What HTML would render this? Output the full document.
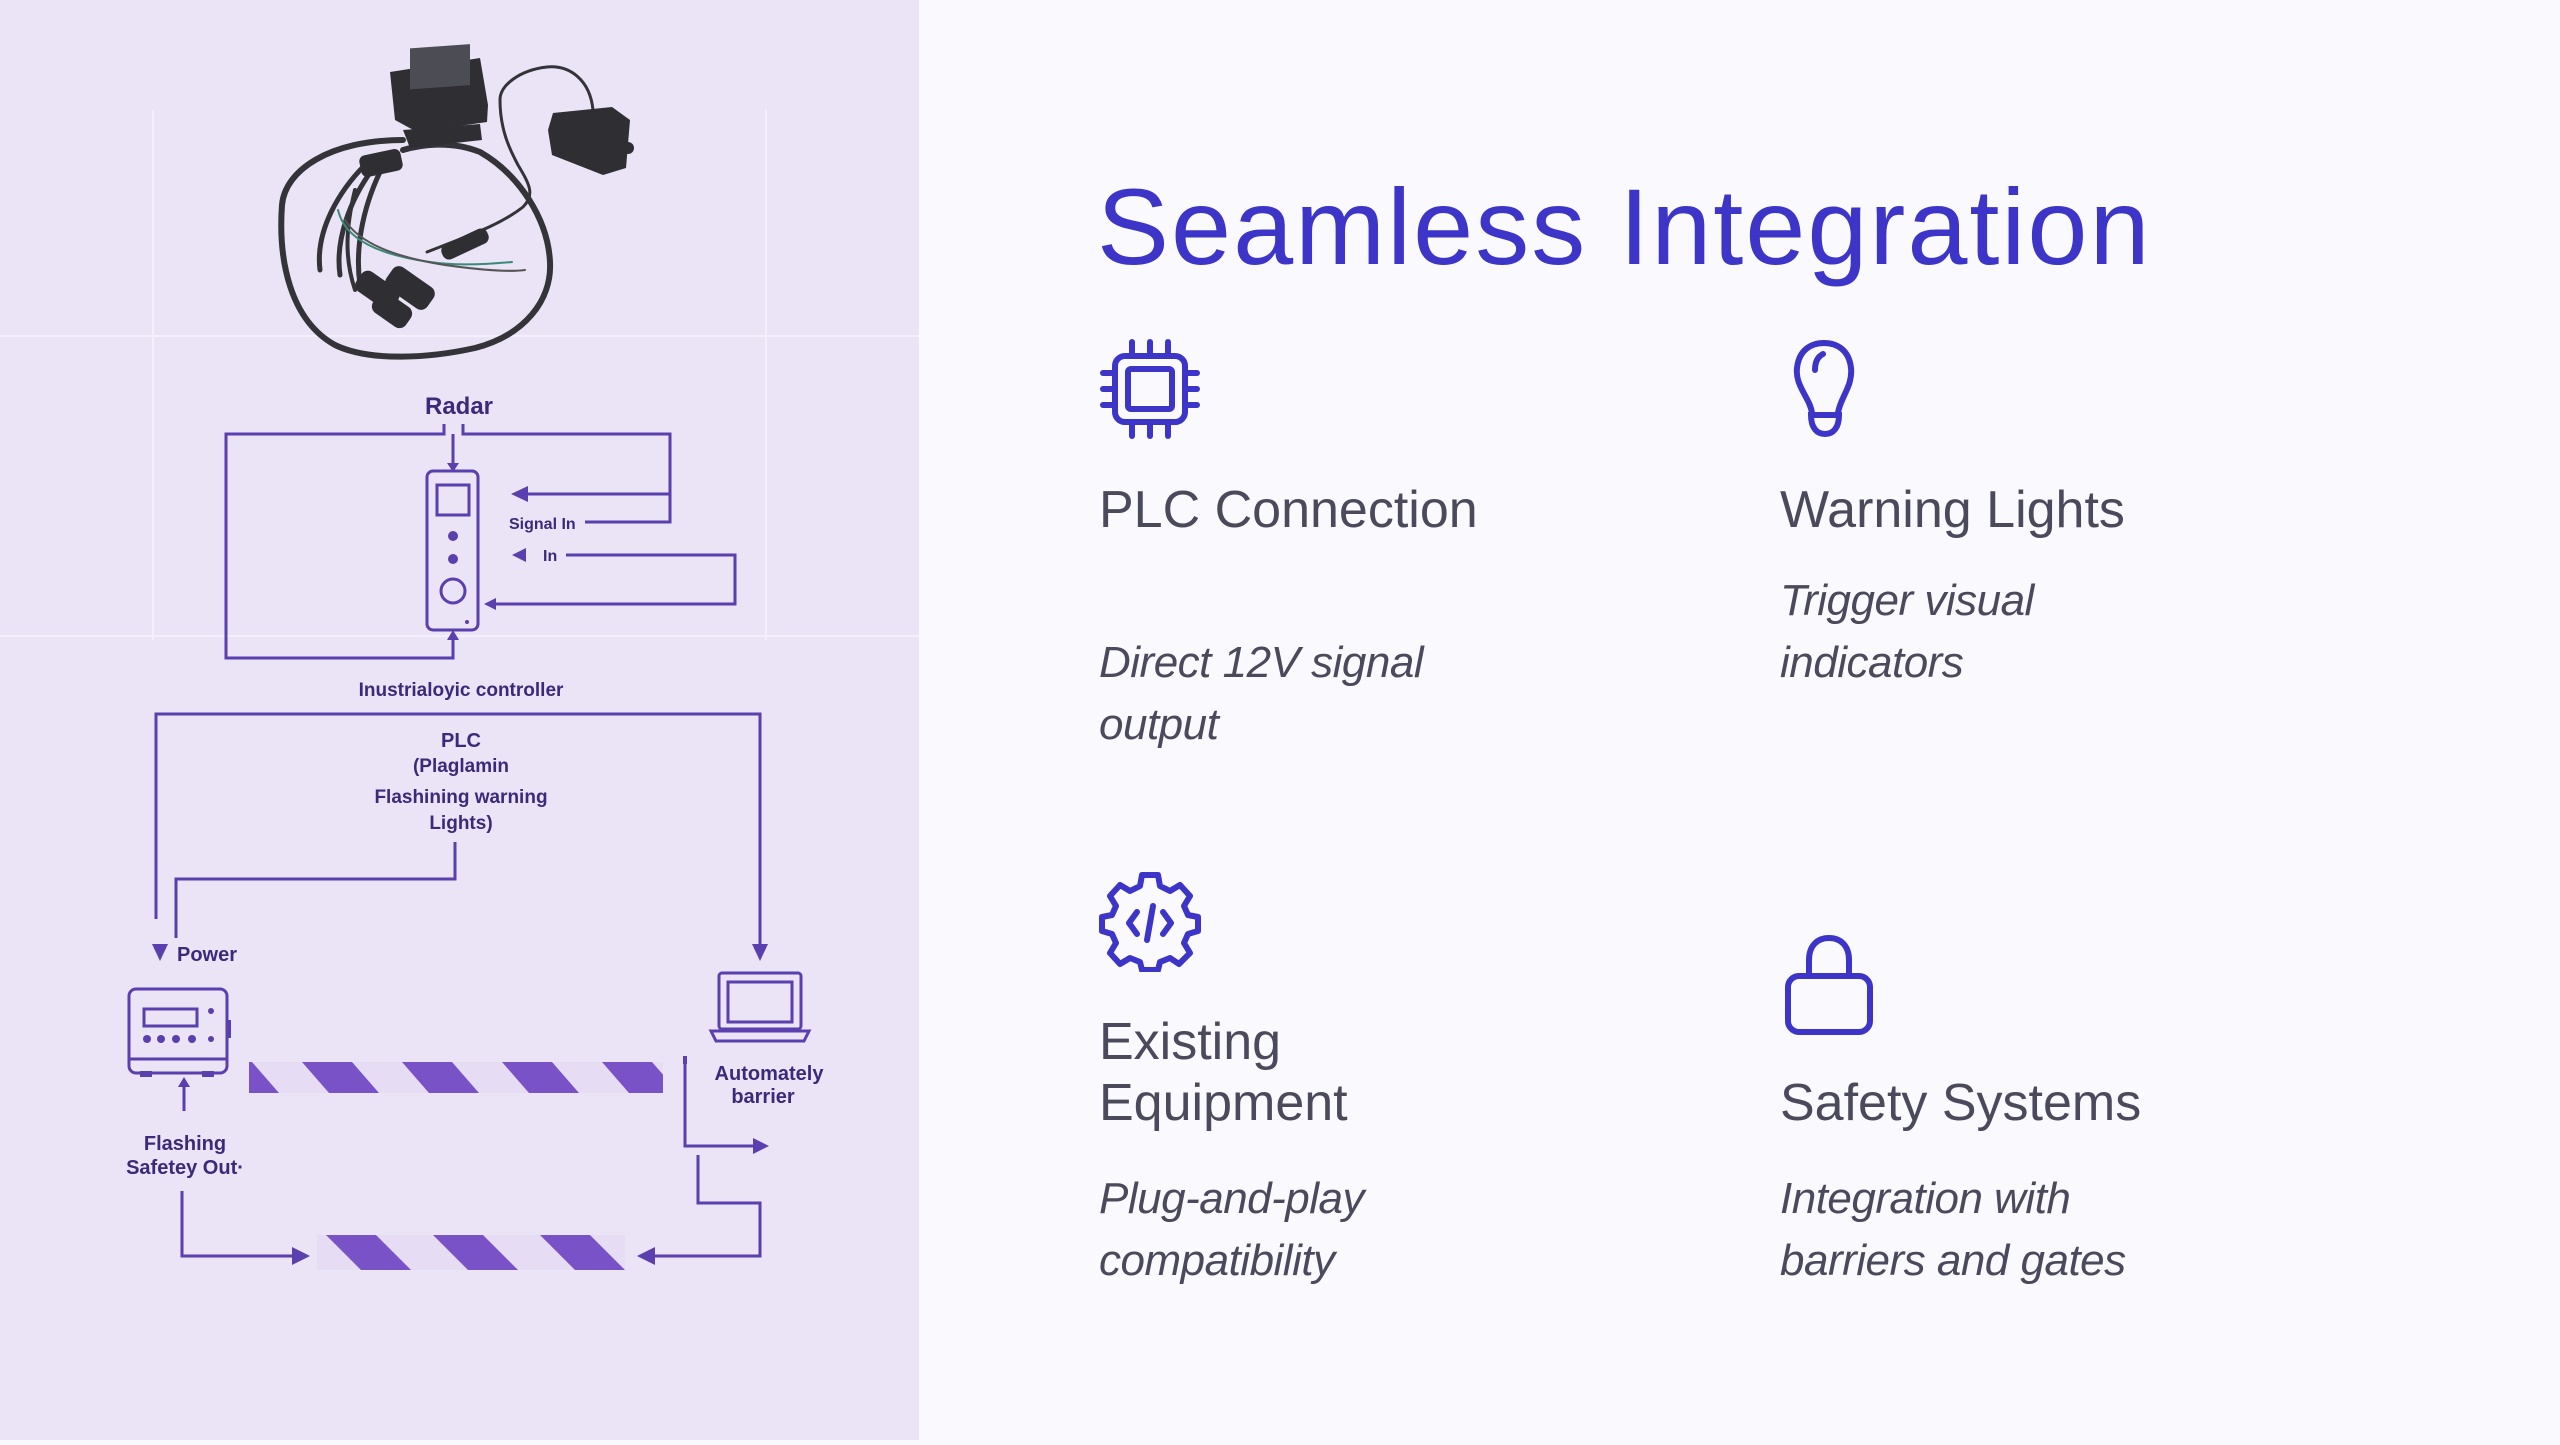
<!DOCTYPE html>
<html><head><meta charset="utf-8">
<style>
html,body{margin:0;padding:0;}
body{width:2560px;height:1440px;position:relative;overflow:hidden;background:#f9f9fe;font-family:"Liberation Sans","DejaVu Sans",sans-serif;}
#left{position:absolute;left:0;top:0;width:919px;height:1440px;background:#ebe3f6;}
h1{position:absolute;left:1097px;top:173px;margin:0;font-weight:normal;font-size:108px;color:#3d35c8;line-height:1;letter-spacing:2px;}
.hd{position:absolute;font-size:52px;color:#4a4a5c;line-height:61px;}
.ds{position:absolute;font-size:44px;font-style:italic;color:#4a4a5c;line-height:62px;letter-spacing:-0.5px;}
svg text{font-family:"Liberation Sans","DejaVu Sans",sans-serif;fill:#3b2a7a;font-weight:bold;}
</style></head><body>
<div id="left">
<svg width="919" height="1440" viewBox="0 0 919 1440" xmlns="http://www.w3.org/2000/svg">
 <g stroke="#f4f0fb" stroke-width="2" fill="none">
  <line x1="153" y1="110" x2="153" y2="640"/><line x1="766" y1="110" x2="766" y2="640"/>
  <line x1="0" y1="336" x2="919" y2="336"/><line x1="0" y1="636" x2="919" y2="636"/>
 </g>
 <g fill="none" stroke="#333338" stroke-linecap="round">
  <path d="M403 140 C330 140 285 170 282 205 C278 260 290 320 335 345 C370 362 430 358 475 348 C525 335 552 300 550 262 C548 220 520 175 480 152 C450 140 420 145 403 150" stroke-width="6"/>
  <path d="M593 110 C590 80 570 65 547 67 C520 70 500 85 500 100 C500 130 510 150 518 165 C530 185 535 195 523 207 C500 225 470 235 445 245 L427 252" stroke-width="3"/>
  <path d="M365 165 C340 190 315 230 320 270" stroke-width="5"/>
  <path d="M372 170 C350 200 335 240 340 275" stroke-width="5"/>
  <path d="M380 172 C362 210 355 250 360 285" stroke-width="5"/>
  <path d="M355 190 C345 230 345 260 355 290" stroke-width="4"/>
  <path d="M338 210 C345 240 380 255 430 262 C450 265 480 265 512 262" stroke="#3a8a7a" stroke-width="2"/>
  <path d="M345 220 C360 245 400 258 445 265 C480 270 510 272 525 270" stroke="#555" stroke-width="2"/>
 </g>
 <g fill="#2e2e33">
  <polygon points="390,72 480,58 488,105 487,122 417,132 395,120"/>
  <polygon points="403,130 480,124 482,140 410,148"/>
  <rect x="360" y="152" width="42" height="22" rx="6" transform="rotate(-12 381 163)"/>
  <rect x="440" y="236" width="50" height="16" rx="7" transform="rotate(-25 465 244)"/>
  <rect x="355" y="278" width="45" height="24" rx="8" transform="rotate(35 377 290)"/>
  <rect x="385" y="275" width="50" height="26" rx="8" transform="rotate(35 410 288)"/>
  <rect x="372" y="298" width="40" height="24" rx="8" transform="rotate(35 392 310)"/>
  <polygon points="553,113 612,107 630,120 626,168 603,175 552,155 548,130"/>
  <circle cx="628" cy="148" r="6"/>
 </g>
 <rect x="410" y="77" width="60" height="41" fill="#4c4c55" transform="skewY(-4)"/>
 <g stroke="#5a3fae" stroke-width="3" fill="none">
  <polyline points="444,424 444,434 226,434 226,658 453,658 453,638"/>
  <polyline points="463,424 463,434 670,434 670,522 585,522"/>
  <line x1="670" y1="494" x2="522" y2="494"/>
  <polyline points="566,555 735,555 735,604 492,604"/>
  <line x1="453" y1="434" x2="453" y2="465"/>
  <rect x="427" y="471" width="51" height="159" rx="6"/>
  <rect x="437" y="485" width="32" height="30"/>
  <circle cx="453" cy="591" r="12"/>
  <polyline points="156,919 156,714 760,714 760,946"/>
  <polyline points="455,842 455,879 176,879 176,938"/>
  <line x1="184" y1="1111" x2="184" y2="1085"/>
  <polyline points="685,1059 685,1146 760,1146"/>
  <polyline points="698,1155 698,1203 760,1203 760,1256 650,1256"/>
  <polyline points="182,1191 182,1256 300,1256"/>
  <rect x="129" y="989" width="98" height="84" rx="7"/>
  <line x1="129" y1="1059" x2="227" y2="1059"/>
  <rect x="144" y="1009" width="53" height="17"/>
  <rect x="719" y="973" width="82" height="56" rx="3"/>
  <rect x="728" y="982" width="64" height="40"/>
  <path d="M711 1031 L809 1031 L804 1041 L716 1041 Z"/>
 </g>
 <g fill="#5a3fae">
  <circle cx="453" cy="536" r="5"/><circle cx="453" cy="559" r="5"/><circle cx="467" cy="622" r="2"/>
  <polygon points="447,463 459,463 453,472"/>
  <polygon points="447,640 459,640 453,630"/>
  <polygon points="511,494 528,486 528,502"/>
  <polygon points="512,555 526,548 526,562"/>
  <polygon points="484,604 496,598 496,610"/>
  <polygon points="152,944 168,944 160,961"/>
  <polygon points="752,944 768,944 760,961"/>
  <polygon points="178,1087 190,1087 184,1077"/>
  <polygon points="769,1146 753,1138 753,1154"/>
  <polygon points="310,1256 292,1247 292,1265"/>
  <polygon points="637,1256 655,1247 655,1265"/>
  <circle cx="211" cy="1011" r="3"/>
  <circle cx="147" cy="1039" r="4"/><circle cx="161" cy="1039" r="4"/><circle cx="176" cy="1039" r="4"/><circle cx="192" cy="1039" r="4"/><circle cx="211" cy="1039" r="3"/>
  <rect x="140" y="1071" width="12" height="6"/><rect x="202" y="1071" width="12" height="6"/>
  <rect x="227" y="1020" width="4" height="18"/>
  <rect x="683" y="1056" width="4" height="8"/>
 </g>
 <defs>
  <pattern id="st" patternUnits="userSpaceOnUse" width="100" height="200" patternTransform="translate(249 1062)">
   <rect width="100" height="200" fill="#e6dcf4"/>
   <polygon points="53,0 103,0 130,31 80,31" fill="#7a52c8"/>
   <polygon points="-47,0 3,0 30,31 -20,31" fill="#7a52c8"/>
  </pattern>
  <pattern id="st2" patternUnits="userSpaceOnUse" width="107" height="200" patternTransform="translate(317 1235)">
   <rect width="107" height="200" fill="#e6dcf4"/>
   <polygon points="9,0 59,0 94,35 44,35" fill="#7a52c8"/>
  </pattern>
 </defs>
 <rect x="249" y="1062" width="414" height="31" fill="url(#st)"/>
 <rect x="317" y="1235" width="308" height="35" fill="url(#st2)"/>
 <text x="459" y="414" font-size="24" text-anchor="middle">Radar</text>
 <text x="509" y="529" font-size="16">Signal In</text>
 <text x="543" y="561" font-size="16">In</text>
 <text x="461" y="696" font-size="19" text-anchor="middle">Inustrialoyic controller</text>
 <text x="461" y="747" font-size="20" text-anchor="middle">PLC</text>
 <text x="461" y="772" font-size="19" text-anchor="middle">(Plaglamin</text>
 <text x="461" y="803" font-size="19" text-anchor="middle">Flashining warning</text>
 <text x="461" y="829" font-size="19" text-anchor="middle">Lights)</text>
 <text x="177" y="961" font-size="20">Power</text>
 <text x="769" y="1080" font-size="20" text-anchor="middle">Automately</text>
 <text x="763" y="1103" font-size="20" text-anchor="middle">barrier</text>
 <text x="185" y="1150" font-size="20" text-anchor="middle">Flashing</text>
 <text x="185" y="1174" font-size="20" text-anchor="middle">Safetey Out·</text>
</svg>
</div>

<h1>Seamless Integration</h1>

<svg style="position:absolute;left:1099px;top:338px" width="102" height="102" viewBox="0 0 102 102">
 <g stroke="#3d35c8" stroke-width="6" fill="none" stroke-linecap="round">
  <rect x="16" y="18" width="70" height="66" rx="10"/>
  <rect x="29" y="31" width="44" height="40" rx="3"/>
  <line x1="33" y1="4" x2="33" y2="16"/><line x1="51" y1="4" x2="51" y2="16"/><line x1="69" y1="4" x2="69" y2="16"/>
  <line x1="33" y1="86" x2="33" y2="98"/><line x1="51" y1="86" x2="51" y2="98"/><line x1="69" y1="86" x2="69" y2="98"/>
  <line x1="4" y1="35" x2="14" y2="35"/><line x1="4" y1="51" x2="14" y2="51"/><line x1="4" y1="67" x2="14" y2="67"/>
  <line x1="88" y1="35" x2="98" y2="35"/><line x1="88" y1="51" x2="98" y2="51"/><line x1="88" y1="67" x2="98" y2="67"/>
 </g>
</svg>
<svg style="position:absolute;left:1785px;top:338px" width="80" height="102" viewBox="0 0 80 102">
 <g stroke="#3d35c8" stroke-width="6" fill="none" stroke-linecap="round">
  <path d="M27 75 C25 60 10 48 12 30 C14 12 26 5 39 5 C52 5 64 12 66 30 C68 48 55 60 53 75"/>
  <path d="M30 32 C30 22 34 18 38 16"/>
  <path d="M26 77 L54 77 C54 90 48 96 40 96 C32 96 26 90 26 77 Z"/>
 </g>
</svg>
<svg style="position:absolute;left:1099px;top:870px" width="102" height="102" viewBox="0 0 102 102">
 <g stroke="#3d35c8" stroke-width="6" fill="none" stroke-linecap="round" stroke-linejoin="round">
  <path d="M43 5 L59 5 L61 16 L71 21 L81 15 L91 26 L85 36 L89 45 L99 47 L99 61 L89 64 L85 73 L91 83 L80 94 L71 88 L61 92 L59 100 L43 100 L41 92 L31 88 L21 94 L11 83 L17 73 L13 64 L3 61 L3 47 L13 45 L17 36 L11 26 L21 15 L31 21 L41 16 Z"/>
  <polyline points="38,42 30,53 38,64"/>
  <polyline points="64,42 72,53 64,64"/>
  <line x1="54" y1="36" x2="48" y2="70"/>
 </g>
</svg>
<svg style="position:absolute;left:1783px;top:932px" width="92" height="104" viewBox="0 0 92 104">
 <g stroke="#3d35c8" stroke-width="6" fill="none">
  <path d="M26 44 L26 28 C26 14 34 6 46 6 C58 6 66 14 66 28 L66 44"/>
  <rect x="5" y="44" width="82" height="56" rx="11"/>
 </g>
</svg>

<div class="hd" style="left:1099px;top:480px">PLC Connection</div>
<div class="hd" style="left:1780px;top:480px">Warning Lights</div>
<div class="hd" style="left:1099px;top:1012px">Existing<br>Equipment</div>
<div class="hd" style="left:1780px;top:1073px">Safety Systems</div>

<div class="ds" style="left:1099px;top:632px">Direct 12V signal<br>output</div>
<div class="ds" style="left:1780px;top:570px">Trigger visual<br>indicators</div>
<div class="ds" style="left:1099px;top:1168px">Plug-and-play<br>compatibility</div>
<div class="ds" style="left:1780px;top:1168px">Integration with<br>barriers and gates</div>
</body></html>
